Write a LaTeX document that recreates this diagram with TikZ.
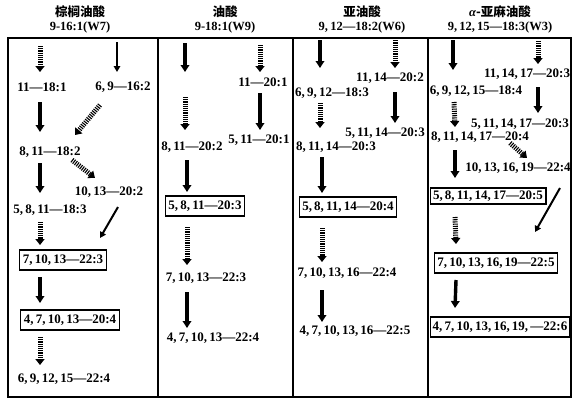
\documentclass[tikz,border=0pt]{standalone}
\usepackage{fontspec}
\setmainfont{Liberation Serif}
\newfontfamily\cjk{Noto Sans CJK SC}
\usetikzlibrary{arrows.meta}
\newcommand\cmm{,\kern2.2pt}
\begin{document}
\begin{tikzpicture}[x=1pt,y=-1pt,
  lbl/.style={font=\bfseries\fontsize{13}{15}\selectfont, inner sep=1pt},
  ttl/.style={font=\bfseries\fontsize{12.5}{15}\selectfont, inner sep=0pt},
  cjkttl/.style={font=\cjk\bfseries\fontsize{12.5}{14}\selectfont, inner sep=0pt},
  boxed/.style={lbl, draw, line width=1.1pt, inner xsep=3pt, minimum height=20pt},
  sarr/.style={line width=3.4pt, -{Triangle[length=7pt,width=8.5pt]}},
  tarr/.style={line width=2pt, -{Triangle[length=6pt,width=6.5pt]}},
  darr/.style={line width=5pt, dash pattern=on 1.1pt off 1.1pt, -{Triangle[length=6pt,width=9pt]}},
  frame/.style={line width=1.8pt},
]
\useasboundingbox[fill=white] (0,0) rectangle (580,407);

% frame
\draw[frame] (8,38) rectangle (571,397);
\draw[frame] (158,38) -- (158,397);
\draw[frame] (293,38) -- (293,397);
\draw[frame] (428,38) -- (428,397);

% titles
\node[cjkttl] (t1a) at (80,12) {棕榈油酸};
\node[ttl] (t1b) at (80,27) {9-16:1(W7)};
\node[cjkttl] (t2a) at (225,12) {油酸};
\node[ttl] (t2b) at (225,27) {9-18:1(W9)};
\node[cjkttl] (t3a) at (362,12) {亚油酸};
\node[ttl] (t3b) at (362,27) {9\cmm12—18:2(W6)};
\node[cjkttl] (t4a) at (500,12) {{\rmfamily\itshape α}-亚麻油酸};
\node[ttl] (t4b) at (500,27) {9\cmm12\cmm15—18:3(W3)};

% ---------- column 1
\node[lbl] (a11) at (42,87) {11—18:1};
\node[lbl] (a69) at (123,87) {6\cmm9—16:2};
\node[lbl] (a811) at (50,152) {8\cmm11—18:2};
\node[lbl] (a1013) at (109,192) {10\cmm13—20:2};
\node[lbl] (a5811) at (50,210) {5\cmm8\cmm11—18:3};
\node[boxed] (b71013) at (63,260) {7\cmm10\cmm13—22:3};
\node[boxed] (b471013) at (70,320) {4\cmm7\cmm10\cmm13—20:4};
\node[lbl] (a691215) at (64,379) {6\cmm9\cmm12\cmm15—22:4};

\coordinate (s1) at (40,46);
\coordinate (s2) at (117,42);
\draw[darr] (s1) -- ([shift={(-2,-15)}]a11.center);
\draw[tarr] (s2) -- ([shift={(-6,-15)}]a69.center);
\draw[sarr] ([shift={(-2,15)}]a11.center) -- ([shift={(-10,-20)}]a811.center);
\draw[darr] ([shift={(-23,18)}]a69.center) -- ([shift={(25,-17)}]a811.center);
\draw[sarr] ([shift={(-10,11)}]a811.center) -- ([shift={(-10,-17)}]a5811.center);
\draw[darr] ([shift={(22,8)}]a811.center) -- ([shift={(-14,-14)}]a1013.center);
\draw[tarr] ([shift={(9,15)}]a1013.center) -- ([shift={(37,-22)}]b71013.center);
\draw[darr] ([shift={(-10,12)}]a5811.center) -- ([shift={(-23,-15)}]b71013.center);
\draw[sarr] ([shift={(-23,17)}]b71013.center) -- ([shift={(-30,-17)}]b471013.center);
\draw[darr] ([shift={(-30,17)}]b471013.center) -- ([shift={(-24,-14)}]a691215.center);

% ---------- column 2
\node[lbl] (c1) at (263,82) {11—20:1};
\node[lbl] (c2) at (192,147) {8\cmm11—20:2};
\node[lbl] (c3) at (259,140) {5\cmm11—20:1};
\node[boxed] (c4) at (205,206) {5\cmm8\cmm11—20:3};
\node[lbl] (c5) at (206,278) {7\cmm10\cmm13—22:3};
\node[lbl] (c6) at (213,338) {4\cmm7\cmm10\cmm13—22:4};

\coordinate (s3) at (185,43);
\coordinate (s4) at (185,72);
\coordinate (s5) at (185,97);
\coordinate (s6) at (260,45);
\draw[sarr] (s3) -- (s4);
\draw[darr] (s5) -- ([shift={(-7,-17)}]c2.center);
\draw[darr] (s6) -- ([shift={(-3,-10)}]c1.center);
\draw[sarr] ([shift={(-3,11)}]c1.center) -- ([shift={(1,-10)}]c3.center);
\draw[sarr] ([shift={(-5,13)}]c2.center) -- ([shift={(-18,-14)}]c4.center);
\draw[darr] ([shift={(-18,21)}]c4.center) -- ([shift={(-19,-13)}]c5.center);
\draw[sarr] ([shift={(-19,14)}]c5.center) -- ([shift={(-26,-10)}]c6.center);

% ---------- column 3
\node[lbl] (d1) at (390,78) {11\cmm14—20:2};
\node[lbl] (d2) at (332,93) {6\cmm9\cmm12—18:3};
\node[lbl] (d3) at (385,133) {5\cmm11\cmm14—20:3};
\node[lbl] (d4) at (336,147) {8\cmm11\cmm14—20:3};
\node[boxed] (d5) at (348,207) {5\cmm8\cmm11\cmm14—20:4};
\node[lbl] (d6) at (347,273) {7\cmm10\cmm13\cmm16—22:4};
\node[lbl] (d7) at (355,331) {4\cmm7\cmm10\cmm13\cmm16—22:5};

\coordinate (s7) at (320,40);
\coordinate (s8) at (395,38);
\draw[sarr] (s7) -- ([shift={(-12,-25)}]d2.center);
\draw[darr] (s8) -- ([shift={(5,-10)}]d1.center);
\draw[darr] ([shift={(-12,10)}]d2.center) -- ([shift={(-16,-19)}]d4.center);
\draw[sarr] ([shift={(5,14)}]d1.center) -- ([shift={(10,-10)}]d3.center);
\draw[sarr] ([shift={(-14,10)}]d4.center) -- ([shift={(-26,-14)}]d5.center);
\draw[darr] ([shift={(-26,21)}]d5.center) -- ([shift={(-25,-11)}]d6.center);
\draw[sarr] ([shift={(-25,17)}]d6.center) -- ([shift={(-33,-9)}]d7.center);

% ---------- column 4
\node[lbl] (e1) at (527,74) {11\cmm14\cmm17—20:3};
\node[lbl] (e2) at (476,91) {6\cmm9\cmm12\cmm15—18:4};
\node[lbl] (e3) at (520,124) {5\cmm11\cmm14\cmm17—20:3};
\node[lbl] (e4) at (480,137) {8\cmm11\cmm14\cmm17—20:4};
\node[lbl] (e5) at (518,168) {10\cmm13\cmm16\cmm19—22:4};
\node[boxed, minimum height=16pt, inner ysep=1pt] (e6) at (488,196) {5\cmm8\cmm11\cmm14\cmm17—20:5};
\node[boxed] (e7) at (496,263) {7\cmm10\cmm13\cmm16\cmm19—22:5};
\node[boxed, inner xsep=2pt] (e8) at (500,327) {4\cmm7\cmm10\cmm13\cmm16\cmm19\cmm—22:6};

\coordinate (s9) at (453,40);
\coordinate (s10) at (538,41);
\draw[sarr] (s9) -- ([shift={(-23,-21)}]e2.center);
\draw[darr] (s10) -- ([shift={(11,-10)}]e1.center);
\draw[darr] ([shift={(-22,11)}]e2.center) -- ([shift={(-25,-10)}]e4.center);
\draw[sarr] ([shift={(11,13)}]e1.center) -- ([shift={(18,-11)}]e3.center);
\draw[sarr] ([shift={(-25,13)}]e4.center) -- ([shift={(-33,-18)}]e6.center);
\draw[darr] ([shift={(30,6)}]e4.center) -- ([shift={(9,-10)}]e5.center);
\draw[tarr] ([shift={(42,20)}]e5.center) -- ([shift={(39,-31)}]e7.center);
\draw[darr] ([shift={(-33,21)}]e6.center) -- ([shift={(-40,-19)}]e7.center);
\draw[sarr] ([shift={(-40,17)}]e7.center) -- ([shift={(-45,-19)}]e8.center);
\end{tikzpicture}
\end{document}
